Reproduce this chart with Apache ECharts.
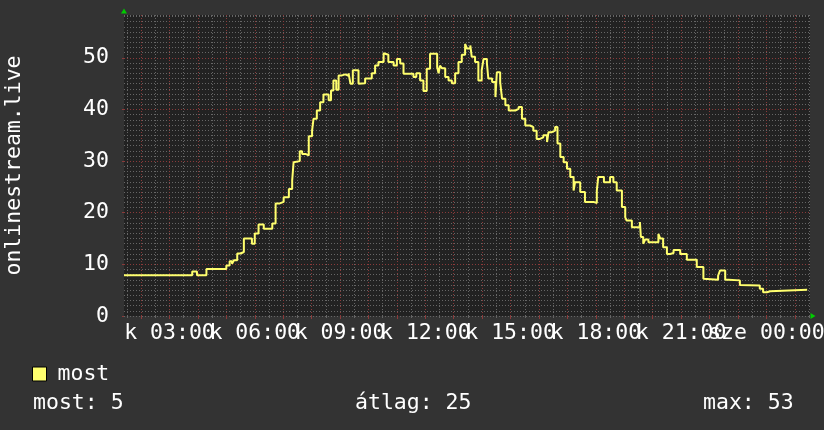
<!DOCTYPE html>
<html><head><meta charset="utf-8">
<script src="https://cdn.jsdelivr.net/npm/echarts@6/dist/echarts.min.js"></script>
<style>html,body{margin:0;padding:0;background:#333333;} #c{width:824px;height:430px;}</style>
</head><body><div id="c"></div>
<script>
// time in minutes since 00:00 of the first day (k = kedd)
const times = [84,228,238,258,300,307,312,316,323,330,337,354,360,368,379,397,404,413,421,432,439,442,446,455,460,467,474,481,484,491,498,505,516,521,526,532,537,544,551,558,562,567,579,583,593,607,614,621,632,636,642,653,660,667,674,695,701,709,716,723,730,745,748,751,755,762,769,776,783,790,797,804,808,815,818,825,832,839,843,850,853,861,868,871,878,882,889,896,910,917,924,931,941,948,955,962,969,977,980,987,994,999,1005,1012,1019,1026,1033,1036,1047,1057,1075,1082,1085,1097,1110,1117,1124,1135,1142,1145,1156,1173,1175,1180,1184,1191,1212,1216,1222,1230,1237,1244,1258,1272,1293,1307,1310,1338,1342,1353,1360,1384,1388,1426,1433,1441,1448,1526];
const values = [7.9,8.6,7.9,9.1,9.8,10.6,10.1,10.8,12.1,12.4,15.0,14.0,16.0,17.7,16.9,17.9,21.8,22.1,23.0,24.6,26.3,29.8,30.0,31.9,31.4,31.1,34.8,35.9,38.2,39.8,41.4,42.9,41.8,43.7,45.6,43.8,46.6,46.8,46.5,47.0,45.0,47.6,45.0,45.1,46.0,47.0,48.5,49.2,50.9,50.6,49.2,48.5,49.8,48.9,46.9,46.3,47.0,45.6,43.6,47.9,50.8,48.2,47.0,48.5,48.0,46.3,45.6,45.1,47.0,49.2,50.6,52.7,51.8,52.4,50.2,49.2,45.6,47.6,49.8,49.0,46.0,45.3,42.4,47.2,45.3,42.1,40.8,39.8,40.1,40.5,38.2,36.9,36.6,35.9,34.3,34.6,35.0,33.7,35.6,35.9,36.6,33.4,30.8,29.8,28.5,26.9,24.3,25.9,24.0,22.1,21.9,24.3,26.9,25.9,26.9,25.9,24.3,21.1,19.1,18.5,17.2,18.2,15.3,14.0,14.8,14.3,15.9,15.0,13.3,12.0,12.2,12.8,12.0,10.9,9.5,7.2,7.0,7.8,8.8,7.0,6.9,6.0,5.9,5.3,4.6,4.8,5.1,5.1];
const seriesName = 'most';
const yAxisTitle = 'onlinestream.live';
const yMajorTicks = [0,10,20,30,40,50];
const xLabelTicks = [180,360,540,720,900,1080,1260,1440];
const xLabelTexts = ['k 03:00','k 06:00','k 09:00','k 12:00','k 15:00','k 18:00','k 21:00','sze 00:00'];
const statTexts = ['most: 5','átlag: 25','max: 53'];

const X_MIN = 84, X_MAX = 1532, Y_MIN = 0, Y_MAX = 58.3;
const xMajorTicks = []; for (let v = 120; v <= X_MAX; v += 60) xMajorTicks.push(v);
const xMinorTicks = []; for (let v = 90; v <= X_MAX; v += 60) xMinorTicks.push(v);
// labels alternate between two overlapping axes so that none is hidden as "overlapping"
const xLabelsA = xLabelTicks.filter((v, i) => i % 2 === 0);
const xLabelsB = xLabelTicks.filter((v, i) => i % 2 === 1);

const FONT = 'DejaVu Sans Mono';
const FS = 21.5;
const MAJOR = '#8a3a3a';
const MINOR = '#666666';
const LINE = '#ffff6e';
const ARROW = '#00cc00';
const DOT = [1,2];

const chart = echarts.init(document.getElementById('c'), null, {renderer: 'canvas'});
const data = times.map((t, i) => [t, values[i]]);

function gridLines(axisKey, list, color) {
  return {
    type: 'line', data: [], xAxisIndex: 0, yAxisIndex: 0, z: 1, silent: true,
    markLine: {
      silent: true, animation: false, symbol: ['none','none'], label: {show: false},
      emphasis: {disabled: true},
      lineStyle: {color: color, type: DOT, width: 1},
      data: list.map(v => ({[axisKey]: v}))
    }
  };
}
function xLabelStyle(list) {
  return {show: true, customValues: list, showMinLabel: true, showMaxLabel: true, hideOverlap: false,
    margin: 6, color: '#ffffff', fontFamily: FONT, fontSize: FS,
    formatter: v => xLabelTexts[xLabelTicks.indexOf(v)]};
}

chart.setOption({
  backgroundColor: '#333333',
  animation: false,
  textStyle: {fontFamily: FONT},
  grid: {left: 124, right: 14, top: 15, bottom: 114, show: true, backgroundColor: '#222222', borderWidth: 0, outerBoundsMode: 'none', containLabel: false},
  legend: {
    left: 32, top: 363, padding: 0, itemWidth: 14, itemHeight: 14, icon: 'rect',
    itemStyle: {borderColor: '#000', borderWidth: 1},
    textStyle: {color: '#ffffff', fontFamily: FONT, fontSize: FS, padding: [0,0,0,6]},
    data: [seriesName]
  },
  xAxis: [
    {
      type: 'value', min: X_MIN, max: X_MAX, position: 'bottom', z: 1,
      axisLine: {show: true, onZero: false, symbol: ['none','triangle'], symbolSize: [6,5], symbolOffset: [0,3], lineStyle: {color: ARROW, width: 0}},
      axisTick: {show: true, length: 3, customValues: xMajorTicks, lineStyle: {color: MAJOR}},
      axisLabel: xLabelStyle(xLabelsA),
      splitLine: {show: false}
    },
    {
      type: 'value', min: X_MIN, max: X_MAX, position: 'bottom',
      axisLine: {show: false},
      axisTick: {show: true, length: 2, customValues: xMinorTicks, lineStyle: {color: MINOR}},
      axisLabel: xLabelStyle(xLabelsB),
      splitLine: {show: false}
    }
  ],
  yAxis: [
    {
      type: 'value', min: Y_MIN, max: Y_MAX, position: 'left', z: 1,
      name: yAxisTitle, nameLocation: 'middle', nameGap: 99, nameRotate: 90,
      nameTextStyle: {color: '#ffffff', fontFamily: FONT, fontSize: FS},
      axisLine: {show: true, symbol: ['none','triangle'], symbolSize: [6,5], symbolOffset: [0,4], lineStyle: {color: ARROW, width: 0}},
      axisTick: {show: true, length: 2, customValues: yMajorTicks, lineStyle: {color: MAJOR}},
      axisLabel: {show: true, customValues: yMajorTicks, margin: 15, color: '#ffffff', fontFamily: FONT, fontSize: FS},
      splitLine: {show: false}
    },
    {
      type: 'value', min: Y_MIN, max: Y_MAX, interval: 1, position: 'left',
      axisLine: {show: false},
      axisTick: {show: false},
      axisLabel: {show: false},
      splitLine: {show: true, lineStyle: {color: MINOR, type: DOT, width: 1}}
    }
  ],
  series: [
    gridLines('xAxis', xMinorTicks, MINOR),
    gridLines('xAxis', xMajorTicks, MAJOR),
    gridLines('yAxis', yMajorTicks.slice(1), MAJOR),
    {
      name: seriesName, type: 'line', step: 'end', data: data,
      xAxisIndex: 0, yAxisIndex: 0,
      showSymbol: false, symbol: 'none',
      color: LINE,
      lineStyle: {color: LINE, width: 2},
      z: 5
    }
  ],
  graphic: statTexts.map((t, i) => ({
    type: 'text', left: [33, 355, 703][i], top: 392,
    style: {text: t, fill: '#ffffff', font: FS + 'px "' + FONT + '"'}
  }))
});
</script></body></html>
